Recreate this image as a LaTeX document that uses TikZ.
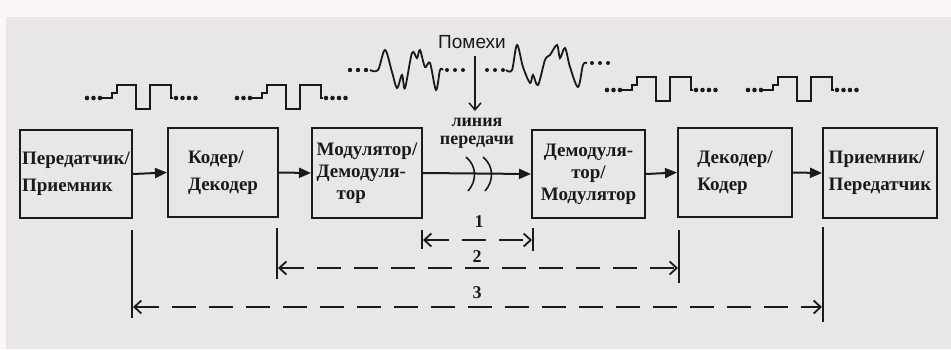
\documentclass[tikz,border=0pt]{standalone}
\usepackage{fontspec}
\setmainfont{Liberation Serif}
\newfontfamily\sansf{Liberation Sans}
\usetikzlibrary{arrows.meta,calc}
\definecolor{bg}{HTML}{E8E6E9}
\definecolor{topband}{HTML}{FBF7F7}
\definecolor{ink}{HTML}{1A1A1A}
\begin{document}
\begin{tikzpicture}[x=1pt,y=-1pt,
  box/.style={draw=ink,line width=2pt,inner xsep=1pt,inner ysep=2pt,text=ink,
    font=\bfseries\fontsize{19}{27}\selectfont,align=left},
  arr/.style={draw=ink,line width=2pt,-{Triangle[length=12pt,width=10pt]}},
  sig/.style={draw=ink,line width=1.7pt,line join=miter},
  noise/.style={draw=ink,line width=1.8pt},
  sdot/.style={fill=ink},
  dimline/.style={draw=ink,line width=1.8pt,dash pattern=on 24pt off 13pt,
    {Straight Barb[length=7pt,width=13pt]}-{Straight Barb[length=7pt,width=13pt]}},
  tick/.style={draw=ink,line width=2pt},
  num/.style={font=\bfseries\fontsize{18}{18}\selectfont,text=ink,inner sep=0pt},
  pulse/.pic={
    \foreach \d in {-30,-23.5,-17} \fill[sdot] (\d,0) circle (2.3pt);
    \draw[sig] (-15,0) -- (-5,0) -- (-5,-5) -- (0,-5) -- (0,-13) -- (19,-13) -- (19,11)
      -- (33,11) -- (33,-13) -- (54,-13) -- (54,0) -- (56,0);
    \foreach \d in {59,65.5,72,78.5} \fill[sdot] (\d,0) circle (2.3pt);
  }]
% background
\fill[topband] (0,0) rectangle (951,349);
\fill[bg] (6,17) rectangle (951,349);
\useasboundingbox (0,0) rectangle (951,349);

% pulse trains
\pic at (117,98) {pulse};
\pic at (267,98) {pulse};
\pic at (637,90) {pulse};
\pic at (778,90) {pulse};

% noise left
\foreach \d in {350,358,366} \fill[sdot] (\d,70) circle (2.2pt);
\draw[noise] plot[smooth,tension=0.55] coordinates {(370,70) (378,70) (385,50) (392,72) (397,88) (402,75) (405,88) (412,53) (417,58) (420,50) (425,67) (430,63) (436,90) (440,70) (443,70)};
\foreach \d in {447,455,463} \fill[sdot] (\d,70) circle (2pt);
% noise right
\foreach \d in {487,495,503} \fill[sdot] (\d,70) circle (2pt);
\draw[noise] plot[smooth,tension=0.55] coordinates {(506,70) (512,70) (517,45) (523,67) (530,83) (533,75) (538,85) (545,60) (550,55) (557,45) (560,58) (565,48) (570,67) (578,87) (583,65) (587,63)};
\foreach \d in {592,600,608} \fill[sdot] (\d,63) circle (2pt);

% interference label and arrow
\node[font=\sansf\fontsize{19}{19}\selectfont,text=ink,inner sep=0pt] (pom) at (472,42) {Помехи};
\coordinate (pomtop) at (475,56);
\coordinate (pomend) at (475,111);
\draw[draw=ink,line width=1.5pt,-{Straight Barb[length=7pt,width=12pt]}] (pomtop) -- (pomend);

% boxes
\node[box,minimum width=112pt,minimum height=88pt] (b1) at (76,174) {Передатчик/\\Приемник};
\node[box,minimum width=110pt,minimum height=89pt] (b2) at (223,172.5) {Кодер/\\Декодер};
\node[box,minimum width=110pt,minimum height=90pt,font=\bfseries\fontsize{19}{22}\selectfont] (b3) at (367,173) {Модулятор/\\Демодуля-\\\hspace*{20pt}тор};
\node[box,minimum width=113pt,minimum height=88pt,font=\bfseries\fontsize{19}{22}\selectfont,align=center] (b4) at (588.5,174) {Демодуля-\\тор/\\Модулятор};
\node[box,minimum width=114pt,minimum height=89pt] (b5) at (735,172.5) {Декодер/\\Кодер};
\node[box,minimum width=114pt,minimum height=90pt] (b6) at (880,173) {Приемник/\\Передатчик};

% channel label
\node[font=\bfseries\fontsize{18}{18}\selectfont,text=ink,align=center,inner sep=0pt] (line) at (477,133) {линия\\передачи};

% arrows
\draw[arr] (b1.east) -- (b2.west);
\draw[arr] (b2.east) -- (b3.west);
\draw[arr] (b3.east) -- (b4.west);
\draw[arr] (b4.east) -- (b5.west);
\draw[arr] (b5.east) -- (b6.west);
% line breaks
\draw[ink,line width=1.6pt] (466,157) .. controls (477,166) and (477,181) .. (468,191);
\draw[ink,line width=1.6pt] (483,157) .. controls (494,166) and (494,181) .. (485,191);

% dimension ticks
\coordinate (t1a) at (422,230); \coordinate (t1b) at (422,249);
\coordinate (t2a) at (533,228); \coordinate (t2b) at (533,251);
\coordinate (t3a) at (277,228); \coordinate (t3b) at (277,279);
\coordinate (t4a) at (679,230); \coordinate (t4b) at (679,283);
\coordinate (t5a) at (132,230); \coordinate (t5b) at (132,318);
\coordinate (t6a) at (823,227); \coordinate (t6b) at (823,322);
\foreach \t in {1,...,6} \draw[tick] (t\t a) -- (t\t b);
\coordinate (d1a) at (423,240); \coordinate (d1b) at (532,240);
\coordinate (d2a) at (278,268); \coordinate (d2b) at (678,268);
\coordinate (d3a) at (133,307); \coordinate (d3b) at (822,307);
\draw[dimline] (d1a) -- (d1b);
\draw[dimline] (d2a) -- (d2b);
\draw[dimline] (d3a) -- (d3b);
\node[num] (n1) at (479,222) {1};
\node[num] (n2) at (477,257) {2};
\node[num] (n3) at (477,293) {3};
\end{tikzpicture}
\end{document}
